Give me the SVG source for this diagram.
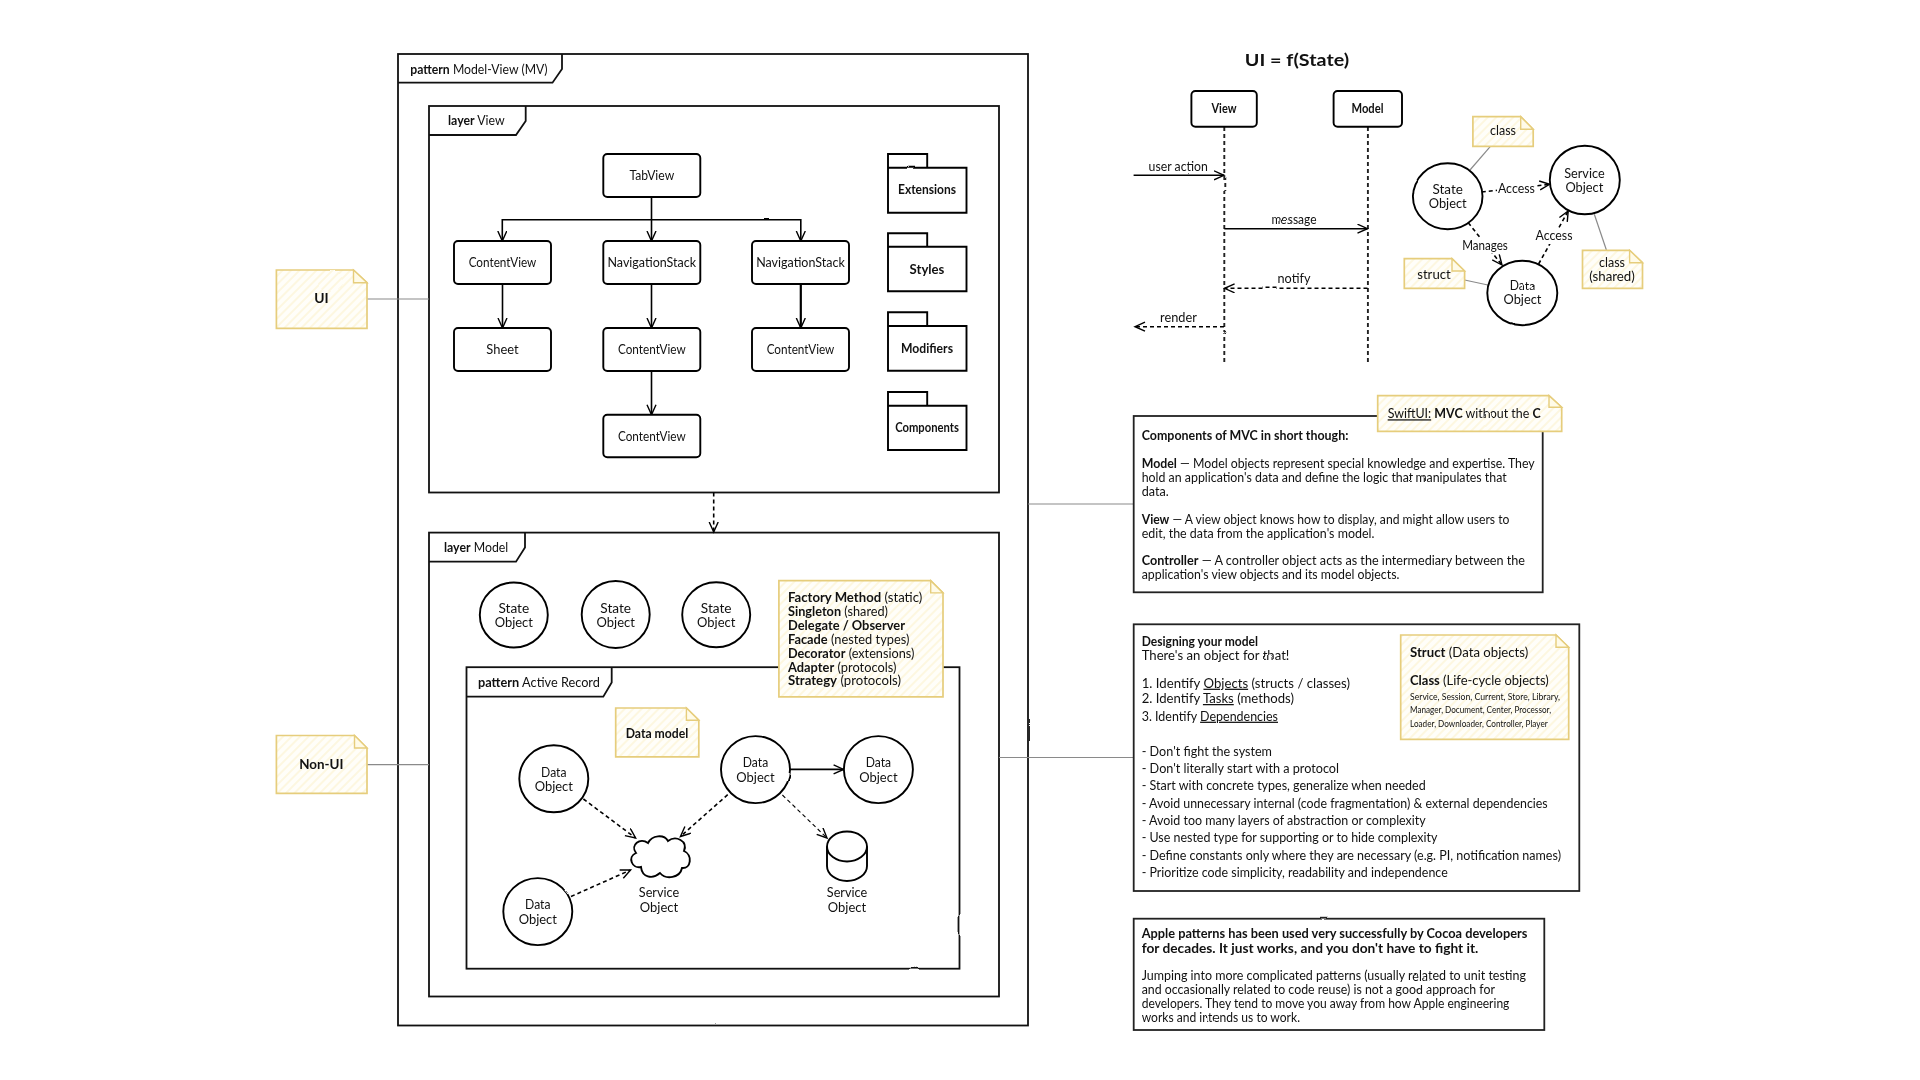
<svg xmlns="http://www.w3.org/2000/svg" width="1920" height="1080" viewBox="0 0 1920 1080">
<style>
text{font-family:"Lato","Noto Sans",sans-serif;font-size:12.5px;fill:#111}
.m{text-anchor:middle}
.b,.b tspan{font-weight:700}
tspan.b{font-weight:700}
.u{text-decoration:underline}
.s{font-size:8.5px}
.frame{fill:none;stroke:#111;stroke-width:1.8}
.box{fill:#fff;stroke:#000;stroke-width:1.9}
.tb{fill:#fff;stroke:#222;stroke-width:1.8}
.note{fill:url(#hatch);stroke:#e6cd7c;stroke-width:1.7}
.fold{fill:#fffbe8;stroke:#e6cd7c;stroke-width:1.4}
.c{fill:none;stroke:#000;stroke-width:1.6}
.d{fill:none;stroke:#000;stroke-width:1.6;stroke-dasharray:4 3}
.g{fill:none;stroke:#8a8a8a;stroke-width:1.2}
.ll{fill:none;stroke:#222;stroke-width:1.9;stroke-dasharray:4 3}
.a{marker-end:url(#arr)}
</style>
<defs>
<pattern id="hatch" width="6" height="6" patternUnits="userSpaceOnUse" patternTransform="rotate(-45)">
<rect width="6" height="6" fill="#fffef9"/><rect width="6" height="2" fill="#fdf7e0"/>
</pattern>
<marker id="arr" markerUnits="userSpaceOnUse" markerWidth="14" markerHeight="12" refX="10.5" refY="5" orient="auto">
<path d="M0.5,0.5 L10.5,5 L0.5,9.5" fill="none" stroke="#000" stroke-width="1.4"/>
</marker>
<filter id="hand" filterUnits="userSpaceOnUse" x="0" y="0" width="1920" height="1080" color-interpolation-filters="sRGB">
<feTurbulence type="fractalNoise" baseFrequency="0.02" numOctaves="2" seed="4" result="n"/>
<feDisplacementMap in="SourceGraphic" in2="n" scale="1.6" xChannelSelector="R" yChannelSelector="G"/>
<feGaussianBlur stdDeviation="0.36"/>
</filter>
</defs>
<rect width="1920" height="1080" fill="#fff"/>
<g filter="url(#hand)">

<g id="frame-mv">
<rect class="frame" x="398" y="54" width="630" height="971.5"/>
<path class="frame" d="M398,82.7 H552.5 L562,69 V54"/>
<text x="410.2" y="74" textLength="137.4" lengthAdjust="spacingAndGlyphs"><tspan class="b">pattern</tspan> Model-View (MV)</text>
</g>
<g id="frame-layer-view">
<rect class="frame" x="429" y="106" width="570" height="386.5"/>
<path class="frame" d="M429,135 H516 L525.7,121 V106"/>
<text x="448" y="125" textLength="56.7" lengthAdjust="spacingAndGlyphs"><tspan class="b">layer</tspan> View</text>
</g>
<g id="frame-layer-model">
<rect class="frame" x="429" y="532.6" width="570" height="463.9"/>
<path class="frame" d="M429,561.7 H516 L525,547.5 V532.6"/>
<text x="444" y="551.8" textLength="64.2" lengthAdjust="spacingAndGlyphs"><tspan class="b">layer</tspan> Model</text>
</g>
<g id="frame-active-record">
<rect class="frame" x="466.5" y="667.2" width="493" height="301.5"/>
<path class="frame" d="M466.5,696.6 H603.3 L611.7,682.4 V667.2"/>
<text x="478" y="687" textLength="121.9" lengthAdjust="spacingAndGlyphs"><tspan class="b">pattern</tspan> Active Record</text>
</g>

<g id="connectors">
<path class="g" d="M367,299 H429"/>
<path class="g" d="M367,764.6 H429"/>
<path class="g" d="M1028,504 H1134"/>
<path class="g" d="M999,757.5 H1134"/>
<path class="c a" d="M651.5,197 V241"/>
<path class="c a" d="M651.5,219.7 H502.3 V241"/>
<path class="c a" d="M651.5,219.7 H800.8 V241"/>
<path class="c a" d="M502.5,284 V328"/>
<path class="c a" d="M651.5,284 V328"/>
<path class="c a" d="M800.8,284 V328" style="stroke-width:2.2"/>
<path class="c a" d="M651.5,371 V414.7"/>
<path class="d a" d="M713.7,492.5 V532"/>
<path class="d a" d="M583.4,799 L635.6,838"/>
<path class="d a" d="M727.7,794.7 L680.4,836.5"/>
<path class="d a" d="M571,896.5 L630.6,870"/>
<path class="c a" d="M790,769.4 H843.6"/>
<path class="d a" d="M782.4,795 L827,838" style="stroke-width:1.1"/>
<path class="ll" d="M1224.3,127 V365"/>
<path class="ll" d="M1367.9,127 V365"/>
<path class="c a" d="M1133.6,175.3 H1224"/>
<path class="c a" d="M1224.3,228.7 H1367.5"/>
<path class="d a" d="M1367.5,288.3 H1224.6"/>
<path class="d a" d="M1224,326.7 H1135"/>
<path class="g" d="M1490.4,146.3 L1470,170"/>
<path class="g" d="M1464.6,280 L1487.9,285"/>
<path class="g" d="M1594.3,214.3 L1606.4,250"/>
<path class="d a" d="M1481.8,192 L1549.6,184.3"/>
<path class="d a" d="M1538.6,264 L1568.2,211"/>
<path class="d a" d="M1468.2,222.7 L1502,265"/>
<rect x="1497" y="181" width="39" height="15" fill="#fff"/>
<rect x="1535" y="229" width="38" height="15" fill="#fff"/>
<rect x="1462" y="238" width="46" height="15" fill="#fff"/>
<text class="m" x="1516.4" y="193" textLength="37" lengthAdjust="spacingAndGlyphs">Access</text>
<text class="m" x="1554" y="240" textLength="37" lengthAdjust="spacingAndGlyphs">Access</text>
<text class="m" x="1485" y="250" textLength="45.7" lengthAdjust="spacingAndGlyphs">Manages</text>
<text x="1148.6" y="170.7" textLength="59.3" lengthAdjust="spacingAndGlyphs">user action</text>
<text class="m" x="1294" y="224" textLength="45" lengthAdjust="spacingAndGlyphs">message</text>
<text class="m" x="1294" y="283.3" textLength="32.9" lengthAdjust="spacingAndGlyphs">notify</text>
<text class="m" x="1178.4" y="322.3" textLength="36.8" lengthAdjust="spacingAndGlyphs">render</text>
</g>

<g id="note-ui"><path class="note" d="M276.4,270 H353.5 L367,282.7 V328.3 H276.4 Z"/><path class="fold" d="M353.5,270 V282.7 H367 Z"/><text class="m b" x="321.4" y="303" textLength="14.4" lengthAdjust="spacingAndGlyphs">UI</text></g>
<g id="note-non-ui"><path class="note" d="M276.4,735.5 H354.5 L367,748 V793.3 H276.4 Z"/><path class="fold" d="M354.5,735.5 V748 H367 Z"/><text class="m b" x="321.4" y="768.6" textLength="44.3" lengthAdjust="spacingAndGlyphs">Non-UI</text></g>

<g id="tabview"><rect class="box" x="603.3" y="154" width="97" height="43" rx="4"/><text class="m" x="651.8" y="179.7" textLength="44.8" lengthAdjust="spacingAndGlyphs">TabView</text></g>
<g id="contentview-1"><rect class="box" x="454" y="241" width="97" height="43" rx="4"/><text class="m" x="502.5" y="266.7" textLength="67.7" lengthAdjust="spacingAndGlyphs">ContentView</text></g>
<g id="navstack-1"><rect class="box" x="603.3" y="241" width="97" height="43" rx="4"/><text class="m" x="651.8" y="266.7" textLength="88.6" lengthAdjust="spacingAndGlyphs">NavigationStack</text></g>
<g id="navstack-2"><rect class="box" x="752" y="241" width="97" height="43" rx="4"/><text class="m" x="800.5" y="266.7" textLength="88.6" lengthAdjust="spacingAndGlyphs">NavigationStack</text></g>
<g id="sheet"><rect class="box" x="454" y="328" width="97" height="43" rx="4"/><text class="m" x="502.5" y="353.7" textLength="32.3" lengthAdjust="spacingAndGlyphs">Sheet</text></g>
<g id="contentview-2"><rect class="box" x="603.3" y="328" width="97" height="43" rx="4"/><text class="m" x="651.8" y="353.7" textLength="67.7" lengthAdjust="spacingAndGlyphs">ContentView</text></g>
<g id="contentview-3"><rect class="box" x="752" y="328" width="97" height="43" rx="4"/><text class="m" x="800.5" y="353.7" textLength="67.7" lengthAdjust="spacingAndGlyphs">ContentView</text></g>
<g id="contentview-4"><rect class="box" x="603.3" y="414.7" width="97" height="42.6" rx="4"/><text class="m" x="651.8" y="440.7" textLength="67.7" lengthAdjust="spacingAndGlyphs">ContentView</text></g>

<g id="pkg-extensions"><path class="box" d="M888,154 H927.2 V167.7 H888 Z M888,167.7 H966.5 V212.7 H888 Z"/><text class="m b" x="927" y="194.3" textLength="58" lengthAdjust="spacingAndGlyphs">Extensions</text></g>
<g id="pkg-styles"><path class="box" d="M888,233.3 H927.2 V246.7 H888 Z M888,246.7 H966.5 V291.3 H888 Z"/><text class="m b" x="927" y="273.7" textLength="34.8" lengthAdjust="spacingAndGlyphs">Styles</text></g>
<g id="pkg-modifiers"><path class="box" d="M888,312.3 H927.2 V326 H888 Z M888,326 H966.5 V370.7 H888 Z"/><text class="m b" x="927" y="352.7" textLength="52" lengthAdjust="spacingAndGlyphs">Modifiers</text></g>
<g id="pkg-components"><path class="box" d="M888,392 H927.2 V405.7 H888 Z M888,405.7 H966.5 V450 H888 Z"/><text class="m b" x="927" y="432.3" textLength="63.7" lengthAdjust="spacingAndGlyphs">Components</text></g>

<g id="state-1"><ellipse class="box" cx="513.8" cy="615" rx="34" ry="32.5"/><text class="m" x="513.8" y="612.7" textLength="30.8" lengthAdjust="spacingAndGlyphs">State</text><text class="m" x="513.8" y="626.9" textLength="38.3" lengthAdjust="spacingAndGlyphs">Object</text></g>
<g id="state-2"><ellipse class="box" cx="615.7" cy="614.5" rx="34" ry="33.5"/><text class="m" x="615.7" y="612.7" textLength="30.8" lengthAdjust="spacingAndGlyphs">State</text><text class="m" x="615.7" y="626.9" textLength="38.3" lengthAdjust="spacingAndGlyphs">Object</text></g>
<g id="state-3"><ellipse class="box" cx="716.2" cy="614.8" rx="34" ry="32.5"/><text class="m" x="716.2" y="612.7" textLength="30.8" lengthAdjust="spacingAndGlyphs">State</text><text class="m" x="716.2" y="626.9" textLength="38.3" lengthAdjust="spacingAndGlyphs">Object</text></g>

<g id="note-patterns"><path class="note" d="M778.9,580.7 H930.7 L943,592.9 V696.9 H778.9 Z"/><path class="fold" d="M930.7,580.7 V592.9 H943 Z"/>
<text x="788" y="601.9" textLength="134.3" lengthAdjust="spacingAndGlyphs"><tspan class="b">Factory Method</tspan> (static)</text>
<text x="788" y="616.4" textLength="100" lengthAdjust="spacingAndGlyphs"><tspan class="b">Singleton</tspan> (shared)</text>
<text x="788" y="629.9" textLength="117" lengthAdjust="spacingAndGlyphs" class="b">Delegate / Observer</text>
<text x="788" y="643.8" textLength="121.4" lengthAdjust="spacingAndGlyphs"><tspan class="b">Facade</tspan> (nested types)</text>
<text x="788" y="658" textLength="126.4" lengthAdjust="spacingAndGlyphs"><tspan class="b">Decorator</tspan> (extensions)</text>
<text x="788" y="671.5" textLength="108.5" lengthAdjust="spacingAndGlyphs"><tspan class="b">Adapter</tspan> (protocols)</text>
<text x="788" y="685.4" textLength="113" lengthAdjust="spacingAndGlyphs"><tspan class="b">Strategy</tspan> (protocols)</text>
</g>
<g id="note-data-model"><path class="note" d="M615.7,708 H686.4 L698.8,720.2 V756.8 H615.7 Z"/><path class="fold" d="M686.4,708 V720.2 H698.8 Z"/><text class="m b" x="657" y="737.6" textLength="62.7" lengthAdjust="spacingAndGlyphs">Data model</text></g>

<g id="data-a"><ellipse class="box" cx="553.8" cy="778.8" rx="34.5" ry="33.5"/><text class="m" x="553.8" y="777" textLength="25.4" lengthAdjust="spacingAndGlyphs">Data</text><text class="m" x="553.8" y="791.2" textLength="38.3" lengthAdjust="spacingAndGlyphs">Object</text></g>
<g id="data-b"><ellipse class="box" cx="755.5" cy="769.6" rx="34.5" ry="33.5"/><text class="m" x="755.5" y="767.2" textLength="25.4" lengthAdjust="spacingAndGlyphs">Data</text><text class="m" x="755.5" y="781.7" textLength="38.3" lengthAdjust="spacingAndGlyphs">Object</text></g>
<g id="data-c"><ellipse class="box" cx="878.4" cy="769.6" rx="34.5" ry="33.5"/><text class="m" x="878.4" y="767.2" textLength="25.4" lengthAdjust="spacingAndGlyphs">Data</text><text class="m" x="878.4" y="781.7" textLength="38.3" lengthAdjust="spacingAndGlyphs">Object</text></g>
<g id="data-d"><ellipse class="box" cx="537.8" cy="911.6" rx="34.5" ry="33.5"/><text class="m" x="537.8" y="909.2" textLength="25.4" lengthAdjust="spacingAndGlyphs">Data</text><text class="m" x="537.8" y="923.7" textLength="38.3" lengthAdjust="spacingAndGlyphs">Object</text></g>
<g id="service-cloud"><path class="box" d="M641,867 C632,869 627,857 636,853 C630,845 640,837 648,843 C652,835 664,834 668,841 C676,835 688,841 684,851 C693,855 691,869 682,868 C680,878 666,880 660,873 C652,880 642,877 641,867 Z"/><text class="m" x="659" y="897.4" textLength="40.3" lengthAdjust="spacingAndGlyphs">Service</text><text class="m" x="659" y="912.3" textLength="38.3" lengthAdjust="spacingAndGlyphs">Object</text></g>
<g id="service-cylinder"><path class="box" d="M827,846.5 V866 A20,15 0 0 0 867,866 V846.5"/><ellipse class="box" cx="847" cy="846.5" rx="20" ry="15"/><text class="m" x="847" y="897.4" textLength="40.3" lengthAdjust="spacingAndGlyphs">Service</text><text class="m" x="847" y="912.3" textLength="38.3" lengthAdjust="spacingAndGlyphs">Object</text></g>

<text id="title" class="m b" x="1297" y="66" textLength="104.3" lengthAdjust="spacingAndGlyphs" style="font-size:17px">UI = f(State)</text>
<g id="seq-view"><rect class="box" x="1191.4" y="91" width="65.4" height="35.7" rx="4"/><text class="m b" x="1224" y="113.3" textLength="25" lengthAdjust="spacingAndGlyphs">View</text></g>
<g id="seq-model"><rect class="box" x="1333.6" y="91" width="68.4" height="35.7" rx="4"/><text class="m b" x="1367.5" y="113.3" textLength="32" lengthAdjust="spacingAndGlyphs">Model</text></g>

<g id="state-object"><ellipse class="box" cx="1447.7" cy="196.3" rx="34.8" ry="33"/><text class="m" x="1447.7" y="193.7" textLength="30.4" lengthAdjust="spacingAndGlyphs">State</text><text class="m" x="1447.7" y="208" textLength="37.9" lengthAdjust="spacingAndGlyphs">Object</text></g>
<g id="service-object"><ellipse class="box" cx="1584.8" cy="180" rx="35" ry="34.3"/><text class="m" x="1584.4" y="178" textLength="40.4" lengthAdjust="spacingAndGlyphs">Service</text><text class="m" x="1584.4" y="192.3" textLength="37.9" lengthAdjust="spacingAndGlyphs">Object</text></g>
<g id="data-object"><ellipse class="box" cx="1522.3" cy="293" rx="35" ry="32.2"/><text class="m" x="1522.5" y="290.3" textLength="25.4" lengthAdjust="spacingAndGlyphs">Data</text><text class="m" x="1522.5" y="304.3" textLength="37.9" lengthAdjust="spacingAndGlyphs">Object</text></g>
<g id="note-class"><path class="note" d="M1472.9,116.7 H1520.7 L1533.2,129.3 V146.3 H1472.9 Z"/><path class="fold" d="M1520.7,116.7 V129.3 H1533.2 Z"/><text class="m" x="1503" y="135.3" textLength="26" lengthAdjust="spacingAndGlyphs">class</text></g>
<g id="note-struct"><path class="note" d="M1404.3,258.7 H1452 L1464.6,271 V288.3 H1404.3 Z"/><path class="fold" d="M1452,258.7 V271 H1464.6 Z"/><text class="m" x="1434" y="278.7" textLength="33.6" lengthAdjust="spacingAndGlyphs">struct</text></g>
<g id="note-class-shared"><path class="note" d="M1582.5,250.3 H1629.6 L1642.5,262.7 V288.3 H1582.5 Z"/><path class="fold" d="M1629.6,250.3 V262.7 H1642.5 Z"/><text class="m" x="1612" y="267" textLength="26" lengthAdjust="spacingAndGlyphs">class</text><text class="m" x="1612" y="281.3" textLength="45.7" lengthAdjust="spacingAndGlyphs">(shared)</text></g>

<g id="box-components">
<rect class="tb" x="1133.7" y="416" width="409" height="176.3"/>
<text x="1141.7" y="439.7" textLength="206.7" lengthAdjust="spacingAndGlyphs" class="b">Components of MVC in short though:</text>
<text x="1141.7" y="467.7" textLength="393" lengthAdjust="spacingAndGlyphs"><tspan class="b">Model</tspan> — Model objects represent special knowledge and expertise. They</text>
<text x="1141.7" y="482" textLength="365" lengthAdjust="spacingAndGlyphs">hold an application's data and define the logic that manipulates that</text>
<text x="1141.7" y="495.7" textLength="27" lengthAdjust="spacingAndGlyphs">data.</text>
<text x="1141.7" y="524" textLength="367.7" lengthAdjust="spacingAndGlyphs"><tspan class="b">View</tspan> — A view object knows how to display, and might allow users to</text>
<text x="1141.7" y="537.7" textLength="232.7" lengthAdjust="spacingAndGlyphs">edit, the data from the application's model.</text>
<text x="1141.7" y="565.3" textLength="383.3" lengthAdjust="spacingAndGlyphs"><tspan class="b">Controller</tspan> — A controller object acts as the intermediary between the</text>
<text x="1141.7" y="579" textLength="257.7" lengthAdjust="spacingAndGlyphs">application's view objects and its model objects.</text>
</g>
<g id="note-swiftui"><path class="note" d="M1377.7,395.7 H1549 L1561.7,407.3 V431.3 H1377.7 Z"/><path class="fold" d="M1549,395.7 V407.3 H1561.7 Z"/>
<text x="1387.7" y="418.3" textLength="153" lengthAdjust="spacingAndGlyphs"><tspan class="u">SwiftUI:</tspan> <tspan class="b">MVC</tspan> without the <tspan class="b">C</tspan></text></g>

<g id="box-designing">
<rect class="tb" x="1133.7" y="624.3" width="445.6" height="266.7"/>
<text x="1141.7" y="646.3" textLength="116.3" lengthAdjust="spacingAndGlyphs" class="b">Designing your model</text>
<text x="1141.7" y="659.7" textLength="147.7" lengthAdjust="spacingAndGlyphs">There's an object for that!</text>
<text x="1141.7" y="687.7" textLength="208.3" lengthAdjust="spacingAndGlyphs">1. Identify <tspan class="u">Objects</tspan> (structs / classes)</text>
<text x="1141.7" y="703" textLength="152.3" lengthAdjust="spacingAndGlyphs">2. Identify <tspan class="u">Tasks</tspan> (methods)</text>
<text x="1141.7" y="720.7" textLength="136.3" lengthAdjust="spacingAndGlyphs">3. Identify <tspan class="u">Dependencies</tspan></text>
<text x="1141.7" y="755.7" textLength="130.3" lengthAdjust="spacingAndGlyphs">- Don't fight the system</text>
<text x="1141.7" y="773" textLength="197.3" lengthAdjust="spacingAndGlyphs">- Don't literally start with a protocol</text>
<text x="1141.7" y="790.3" textLength="284" lengthAdjust="spacingAndGlyphs">- Start with concrete types, generalize when needed</text>
<text x="1141.7" y="807.7" textLength="406" lengthAdjust="spacingAndGlyphs">- Avoid unnecessary internal (code fragmentation) &amp; external dependencies</text>
<text x="1141.7" y="825" textLength="284" lengthAdjust="spacingAndGlyphs">- Avoid too many layers of abstraction or complexity</text>
<text x="1141.7" y="842.3" textLength="295.7" lengthAdjust="spacingAndGlyphs">- Use nested type for supporting or to hide complexity</text>
<text x="1141.7" y="859.7" textLength="419.3" lengthAdjust="spacingAndGlyphs">- Define constants only where they are necessary (e.g. PI, notification names)</text>
<text x="1141.7" y="877" textLength="306" lengthAdjust="spacingAndGlyphs">- Prioritize code simplicity, readability and independence</text>
</g>
<g id="note-struct-class"><path class="note" d="M1400.7,635 H1556 L1568.7,647.3 V739.3 H1400.7 Z"/><path class="fold" d="M1556,635 V647.3 H1568.7 Z"/>
<text x="1410" y="657" textLength="118.3" lengthAdjust="spacingAndGlyphs"><tspan class="b">Struct</tspan> (Data objects)</text>
<text x="1410" y="685" textLength="138.7" lengthAdjust="spacingAndGlyphs"><tspan class="b">Class</tspan> (Life-cycle objects)</text>
<text class="s" x="1410" y="699.7" textLength="150" lengthAdjust="spacingAndGlyphs">Service, Session, Current, Store, Library,</text>
<text class="s" x="1410" y="713.3" textLength="141" lengthAdjust="spacingAndGlyphs">Manager, Document, Center, Processor,</text>
<text class="s" x="1410" y="726.7" textLength="137.7" lengthAdjust="spacingAndGlyphs">Loader, Downloader, Controller, Player</text>
</g>

<g id="box-apple">
<rect class="tb" x="1133.7" y="918.7" width="410.6" height="111.3"/>
<text x="1141.7" y="938.3" textLength="385.7" lengthAdjust="spacingAndGlyphs" class="b">Apple patterns has been used very successfully by Cocoa developers</text>
<text x="1141.7" y="952.7" textLength="336.7" lengthAdjust="spacingAndGlyphs" class="b">for decades. It just works, and you don't have to fight it.</text>
<text x="1141.7" y="980" textLength="384.3" lengthAdjust="spacingAndGlyphs">Jumping into more complicated patterns (usually related to unit testing</text>
<text x="1141.7" y="994.3" textLength="353.3" lengthAdjust="spacingAndGlyphs">and occasionally related to code reuse) is not a good approach for</text>
<text x="1141.7" y="1008.3" textLength="367.7" lengthAdjust="spacingAndGlyphs">developers. They tend to move you away from how Apple engineering</text>
<text x="1141.7" y="1021.7" textLength="158.3" lengthAdjust="spacingAndGlyphs">works and intends us to work.</text>
</g>
</g>
</svg>
